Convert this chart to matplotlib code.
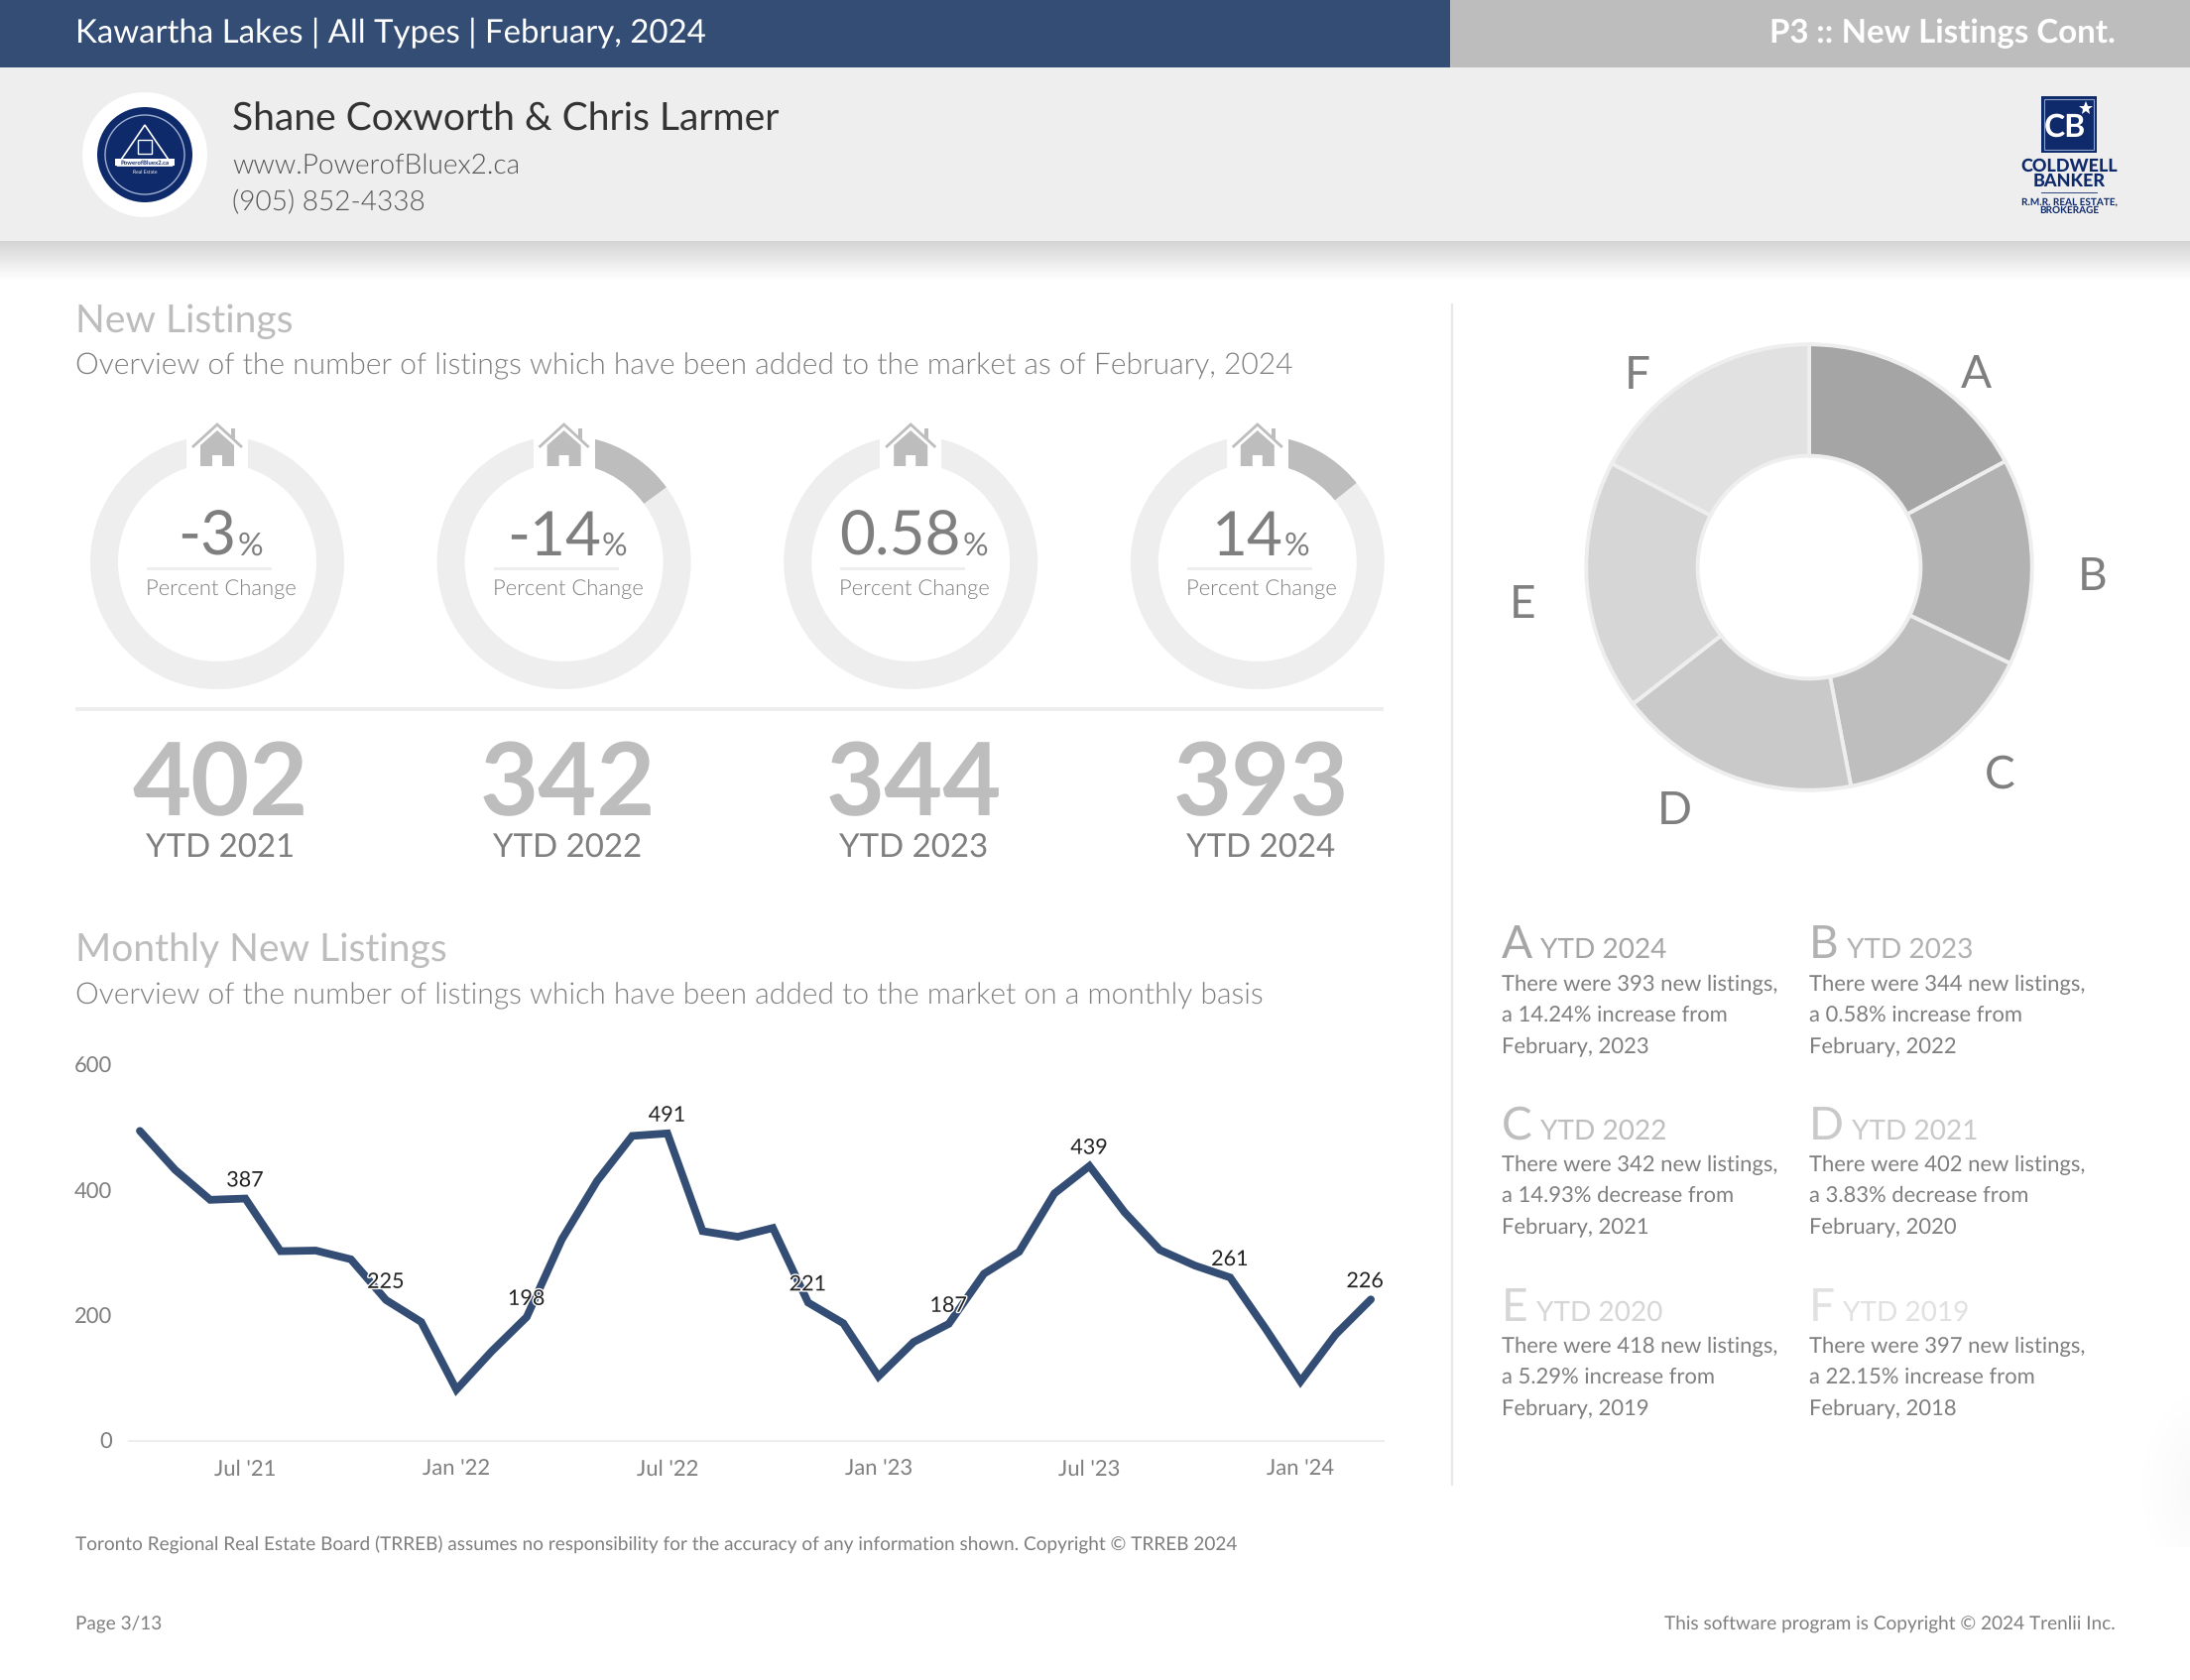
import matplotlib
matplotlib.use("Agg")
import matplotlib.pyplot as plt
import matplotlib.patheffects as pe
from matplotlib import font_manager as fm
import numpy as np
from matplotlib.patches import Circle, Polygon, Rectangle, Wedge

W, H = 2208, 1694
plt.rcParams["font.family"] = ["Lato", "DejaVu Sans"]
plt.rcParams["text.hinting"] = "no_hinting"
plt.rcParams["text.hinting_factor"] = 1
plt.rcParams["text.kerning_factor"] = 0

BLUE = "#334d75"
GREY = "#7f7f7f"
LIGHT = "#bdbdbd"
RING = "#eeeeee"

# KPI gauges
kpi_pct = [-3.83, -14.93, 0.58, 14.24]
kpi_pct_labels = ["-3", "-14", "0.58", "14"]
kpi_totals = [402, 342, 344, 393]
kpi_years = ["YTD 2021", "YTD 2022", "YTD 2023", "YTD 2024"]

# monthly listings, Apr '21 .. Mar '24
monthly = [495, 433, 385, 387, 303, 304, 290, 225, 190, 82, 143, 198,
           322, 415, 487, 491, 335, 326, 340, 221, 188, 103, 158, 187,
           267, 302, 395, 439, 365, 305, 280, 261, 180, 95, 170, 226]
label_idx = [3, 7, 11, 15, 19, 23, 27, 31, 35]
label_dx = [0, 0, 0, 0, 0, 0, 0, 0, -4]
tick_idx = [3, 9, 15, 21, 27, 33]
tick_labels = ["Jul '21", "Jan '22", "Jul '22", "Jan '23", "Jul '23", "Jan '24"]
y_ticks = [0, 200, 400, 600]

# donut
donut_labels = ["A", "B", "C", "D", "E", "F"]
donut_values = [393, 344, 342, 402, 418, 397]
donut_colors = ["#a5a5a5", "#b2b2b2", "#bebebe", "#c9c9c9", "#d6d6d6", "#e1e1e1"]
donut_label_xy = [(1992, 375), (2110, 579), (2016, 779), (1688, 815), (1535, 607), (1651, 376)]

# text blocks next to the donut
block_letters = ["A", "B", "C", "D", "E", "F"]
block_years = ["YTD 2024", "YTD 2023", "YTD 2022", "YTD 2021", "YTD 2020", "YTD 2019"]
block_text = [
    ["There were 393 new listings,", "a 14.24% increase from", "February, 2023"],
    ["There were 344 new listings,", "a 0.58% increase from", "February, 2022"],
    ["There were 342 new listings,", "a 14.93% decrease from", "February, 2021"],
    ["There were 402 new listings,", "a 3.83% decrease from", "February, 2020"],
    ["There were 418 new listings,", "a 5.29% increase from", "February, 2019"],
    ["There were 397 new listings,", "a 22.15% increase from", "February, 2018"],
]


def lato_file(name):
    for f in fm.fontManager.ttflist:
        if f.fname.endswith(name):
            return f.fname
    return None


LIGHT_FILE = lato_file("Lato-Light.ttf")

fig = plt.figure(figsize=(W / 100, H / 100), dpi=100, facecolor="white")
renderer = fig.canvas.get_renderer()

# page axes in pixel coordinates, y down
page = fig.add_axes([0, 0, 1, 1])
page.set_xlim(0, W)
page.set_ylim(H, 0)
page.axis("off")


def txt(x, y, s, px, color=GREY, ha="left", va="baseline", weight="normal", **kw):
    t = page.text(x, y, s, fontsize=px * 0.72, color=color, ha=ha, va=va, fontweight=weight, **kw)
    if weight == "light" and LIGHT_FILE:
        t.set_fontproperties(fm.FontProperties(fname=LIGHT_FILE, size=px * 0.72))
    return t


# header bands
page.add_patch(Rectangle((0, 0), 1462, 68, color=BLUE, lw=0))
page.add_patch(Rectangle((1462, 0), W - 1462, 68, color=LIGHT, lw=0))
page.add_patch(Rectangle((0, 68), W, 175, color=RING, lw=0))
shadow = np.linspace(0.83, 1, 40).reshape(-1, 1)
page.imshow(shadow, extent=(0, W, 283, 243), cmap="gray", vmin=0, vmax=1, aspect="auto", zorder=1)
# faint smudge at the right page edge
yy, xx = np.mgrid[1380:1560, 2140:2208]
smudge = 1 - 0.03 * np.clip(1 - np.hypot((xx - 2220) / 70, (yy - 1500) / 110), 0, 1)
page.imshow(smudge, extent=(2140, 2208, 1560, 1380), cmap="gray", vmin=0, vmax=1, aspect="auto", zorder=0)
page.set_xlim(0, W)
page.set_ylim(H, 0)
txt(76, 43, "Kawartha Lakes | All Types | February, 2024", 33.3, "white")
txt(2133, 43, "P3 :: New Listings Cont.", 33, "white", ha="right", weight="bold")

# agent block
txt(234, 132, "Shane Coxworth & Chris Larmer", 39, "#333333")
txt(234, 175, "www.PowerofBluex2.ca", 27.6, "#555555", weight="light")
txt(234, 212, "(905) 852-4338", 27.6, "#555555", weight="light")
page.add_patch(Circle((146, 156), 63, color="white", lw=0))
page.add_patch(Circle((146, 156), 48, color="#0f2a6b", lw=0))
page.add_patch(Circle((146, 156), 40, fc="none", ec="#9fb0d0", lw=1))
page.add_patch(Polygon([(146, 126), (118, 167), (174, 167)], fc="none", ec="white", lw=1.2))
page.add_patch(Rectangle((139, 141), 14, 14, fc="none", ec="white", lw=1))
page.add_patch(Rectangle((116, 160), 60, 7, fc="white", lw=0))
txt(146, 166, "PowerofBluex2.ca", 6.5, "#0f2a6b", ha="center", weight="bold")
txt(146, 175, "Real Estate", 5.5, "white", ha="center")

# brokerage logo
page.add_patch(Rectangle((2058, 97), 56, 57, color="#0f2a6b", lw=0))
page.add_patch(Rectangle((2061, 100), 50, 51, fc="none", ec="#8ea0c6", lw=0.8))
txt(2082, 138, "CB", 32, "white", ha="center", weight="bold")
page.plot([2103], [109], marker="*", ms=10, color="white", mew=0)
txt(2086, 173, "COLDWELL", 18, "#0f2a6b", ha="center", weight="black")
txt(2086, 188, "BANKER", 18, "#0f2a6b", ha="center", weight="black")
page.plot([2058, 2114], [194, 194], color="#0f2a6b", lw=0.6)
txt(2086, 207, "R.M.R. REAL ESTATE,", 9.6, "#0f2a6b", ha="center", weight="bold")
txt(2086, 215, "BROKERAGE", 9.6, "#0f2a6b", ha="center", weight="bold")

# section titles
txt(76, 335, "New Listings", 38.8, LIGHT)
txt(76, 377, "Overview of the number of listings which have been added to the market as of February, 2024", 29.55, GREY, weight="light")
txt(76, 969, "Monthly New Listings", 38.8, LIGHT)
txt(76, 1012, "Overview of the number of listings which have been added to the market on a monthly basis", 29.5, GREY, weight="light")

# column divider
page.plot([1464, 1464], [307, 1497], color="#e8e8e8", lw=1.6)
page.add_patch(Rectangle((76, 713), 1319, 4, color=RING, lw=0))

# gauges
for i, (pct, plabel, total, year) in enumerate(zip(kpi_pct, kpi_pct_labels, kpi_totals, kpi_years)):
    cx = 219 + i * 349.6
    cy = 567
    page.add_patch(Wedge((cx, cy), 128, 0, 360, width=28, color=RING, lw=0, zorder=2))
    # y axis runs down, so clockwise from the top is -90 upwards
    if abs(pct) > 5:
        page.add_patch(Wedge((cx, cy), 128, -90, -90 + abs(pct) * 3.6, width=28, color=LIGHT, lw=0, zorder=3))
    page.add_patch(Rectangle((cx - 31, 425), 62, 48, color="white", lw=0, zorder=4))
    # house icon
    hx = cx
    page.add_patch(Polygon([(hx - 17, 470), (hx - 17, 449), (hx, 434), (hx + 17, 449), (hx + 17, 470),
                            (hx + 5, 470), (hx + 5, 459), (hx - 5, 459), (hx - 5, 470)],
                           color=LIGHT, lw=0, zorder=5))
    page.plot([hx - 24, hx, hx + 24], [450, 428, 450], color=LIGHT, lw=2, zorder=5, solid_joinstyle="miter")
    page.add_patch(Rectangle((hx + 14, 432), 4, 11, color=LIGHT, lw=0, zorder=5))
    # centre text: number and small % centred together
    num = txt(cx, 560, plabel, 62, GREY, zorder=6)
    pc = txt(cx, 560, "%", 32, GREY, zorder=6)
    w1 = num.get_window_extent(renderer).width
    w2 = pc.get_window_extent(renderer).width
    left = cx + 3 - (w1 + w2 + 1) / 2
    num.set_x(left)
    pc.set_x(left + w1 + 1)
    page.add_patch(Rectangle((cx - 71, 572), 126, 3, color=RING, lw=0, zorder=6))
    txt(cx + 4, 600, "Percent Change", 22.2, GREY, ha="center", weight="light", zorder=6)
    # totals
    txt(cx + 3.5, 822, str(total), 102, LIGHT, ha="center", weight="bold")
    txt(cx + 3, 865, year, 33.3, GREY, ha="center")

# monthly line chart
ax = fig.add_axes([130 / W, 1 - 1453 / H, (1395 - 130) / W, (1453 - 1074) / H])
ax.patch.set_alpha(0)
x = np.arange(len(monthly))
step = 35.46
ax.plot(x, monthly, color=BLUE, lw=5.6, solid_joinstyle="miter", solid_capstyle="round", zorder=2)
ax.set_xlim(-(141 - 130) / step, (1395 - 141) / step)
ax.set_ylim(0, 600)
ax.set_xticks(tick_idx, tick_labels)
ax.set_yticks(y_ticks)
ax.tick_params(length=0, labelsize=16, labelcolor=GREY)
ax.tick_params(axis="x", pad=13.5)
ax.tick_params(axis="y", pad=12)
for s in ["top", "right", "left"]:
    ax.spines[s].set_visible(False)
ax.spines["bottom"].set_color(RING)
ax.spines["bottom"].set_linewidth(1.5)
for i, dx in zip(label_idx, label_dx):
    ax.annotate(str(monthly[i]), (x[i], monthly[i]), xytext=(dx, 6), textcoords="offset points",
                ha="center", va="bottom", fontsize=15.5, color="#222222", zorder=5,
                annotation_clip=False,
                path_effects=[pe.withStroke(linewidth=2, foreground="white")])

# donut
dax = fig.add_axes([(1824 - 227) / W, 1 - (572 + 227) / H, 454 / W, 454 / H])
dax.pie(donut_values, colors=donut_colors, startangle=90, counterclock=False, radius=1,
        wedgeprops=dict(width=0.5, edgecolor="#eeeeee", linewidth=2.8))
dax.set_xlim(-1.01, 1.01)
dax.set_ylim(-1.01, 1.01)
for lab, (lx, ly) in zip(donut_labels, donut_label_xy):
    txt(lx, ly + 16, lab, 46, GREY, ha="center")

# text blocks
col_x = [1514, 1824]
head_y = [966, 1149, 1332]
body_y = [999, 1181, 1364]
for i in range(6):
    bx = col_x[i % 2]
    letter = txt(bx, head_y[i // 2], block_letters[i], 46, donut_colors[i])
    lw = letter.get_window_extent(renderer).width
    txt(bx + lw + 8, head_y[i // 2], block_years[i], 28, donut_colors[i])
    for j, line in enumerate(block_text[i]):
        txt(bx, body_y[i // 2] + j * 31, line, 22.2, GREY)

# footer
txt(76, 1564, "Toronto Regional Real Estate Board (TRREB) assumes no responsibility for the accuracy of any information shown. Copyright © TRREB 2024", 19.4, GREY)
txt(76, 1643, "Page 3/13", 19.4, GREY)
txt(2133, 1643, "This software program is Copyright © 2024 Trenlii Inc.", 19.4, GREY, ha="right")

fig.savefig("out.png", dpi=100, facecolor="white")
